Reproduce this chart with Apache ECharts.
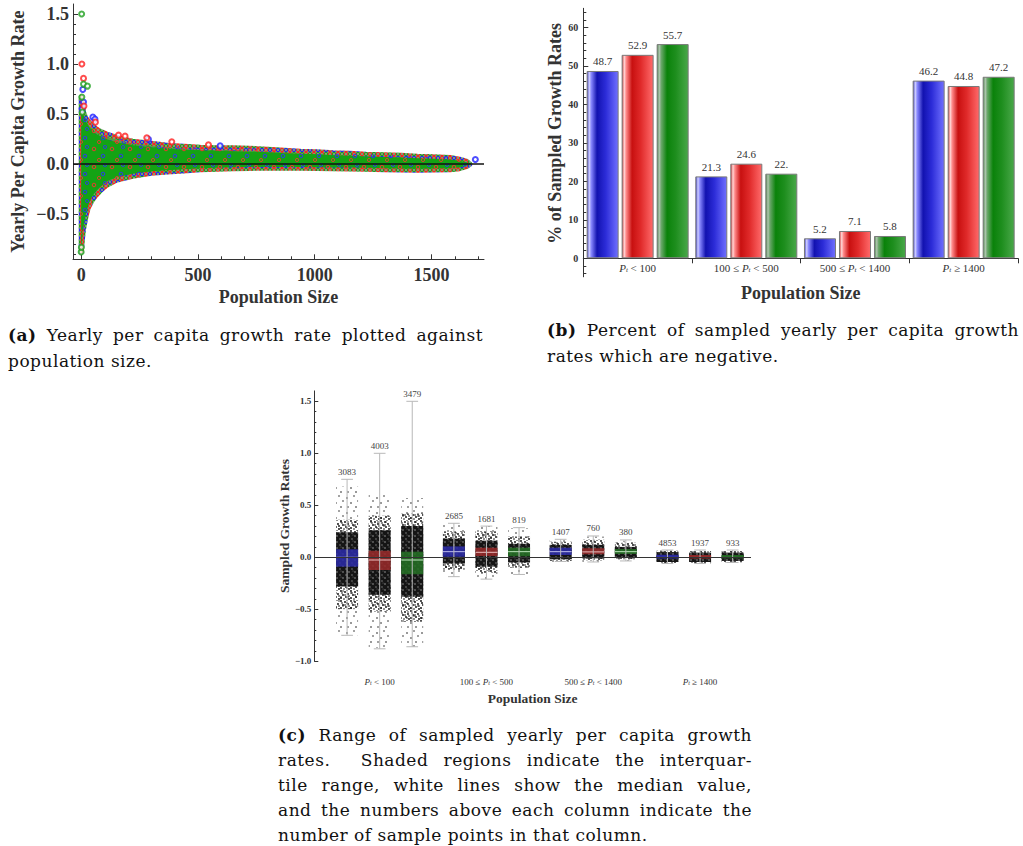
<!DOCTYPE html>
<html>
<head>
<meta charset="utf-8">
<script src="https://cdn.jsdelivr.net/npm/echarts@6/dist/echarts.min.js"></script>
<style>
body { margin: 0; background: #fff; }
#wrap { position: relative; width: 1023px; height: 846px; overflow: hidden; }
#chart { position: absolute; left: 0; top: 0; width: 1023px; height: 846px; }
.ln { position: absolute; font-family: "DejaVu Serif", "Liberation Serif", serif; font-size: 17px; letter-spacing: 0.5px; color: #111; line-height: 26px; white-space: nowrap; }
.ln.j { text-align: justify; text-align-last: justify; }
</style>
</head>
<body>
<div id="wrap">
  <div id="chart"></div>
  <!-- captions -->
  <div class="ln j" style="left:8px;top:322px;width:475px"><b>(a)</b> Yearly per capita growth rate plotted against</div>
  <div class="ln" style="left:8px;top:348px">population size.</div>
  <div class="ln j" style="left:547px;top:317px;width:472px"><b>(b)</b> Percent of sampled yearly per capita growth</div>
  <div class="ln" style="left:547px;top:343px">rates which are negative.</div>
  <div class="ln j" style="left:278px;top:722px;width:474px"><b>(c)</b> Range of sampled yearly per capita growth</div>
  <div class="ln j" style="left:278px;top:747px;width:474px">rates.&nbsp; Shaded regions indicate the interquar-</div>
  <div class="ln j" style="left:278px;top:772px;width:474px">tile range, white lines show the median value,</div>
  <div class="ln j" style="left:278px;top:797px;width:474px">and the numbers above each column indicate the</div>
  <div class="ln" style="left:278px;top:822px">number of sample points in that column.</div>
</div>
<script>
var FONT = '"Liberation Serif", "Times New Roman", serif';

// ---- (a) growth rate vs population size: cloud envelope
var envX    = [0, 5, 10, 20, 30, 45, 60, 80, 110, 150, 220, 300, 370, 440, 510, 580, 650, 720, 800, 870, 940, 1010, 1080, 1150, 1220, 1300, 1370, 1440, 1510, 1580, 1620, 1650, 1665];
var envHigh = [0.67, 0.6, 0.52, 0.46, 0.43, 0.39, 0.36, 0.33, 0.3, 0.27, 0.23, 0.21, 0.19, 0.18, 0.17, 0.165, 0.165, 0.16, 0.15, 0.14, 0.13, 0.125, 0.115, 0.11, 0.1, 0.095, 0.09, 0.08, 0.075, 0.067, 0.05, 0.03, 0];
var envLow  = [-0.88, -0.76, -0.65, -0.53, -0.44, -0.37, -0.32, -0.27, -0.21, -0.16, -0.12, -0.09, -0.077, -0.067, -0.055, -0.05, -0.045, -0.042, -0.04, -0.04, -0.04, -0.042, -0.045, -0.047, -0.05, -0.055, -0.058, -0.06, -0.058, -0.055, -0.045, -0.025, 0];
var coreHigh = [0.6, 0.55, 0.49, 0.43, 0.39, 0.34, 0.31, 0.28, 0.25, 0.22, 0.19, 0.17, 0.155, 0.145, 0.14, 0.135, 0.13, 0.125, 0.12, 0.11, 0.105, 0.1, 0.09, 0.085, 0.078, 0.072, 0.068, 0.06, 0.055, 0.048, 0.035, 0.02, 0];
var coreLow  = [-0.85, -0.73, -0.62, -0.5, -0.41, -0.33, -0.28, -0.23, -0.17, -0.13, -0.095, -0.07, -0.06, -0.05, -0.04, -0.035, -0.03, -0.028, -0.027, -0.027, -0.028, -0.03, -0.032, -0.034, -0.036, -0.04, -0.043, -0.045, -0.044, -0.04, -0.032, -0.017, 0];
// outlying points
var outBlue  = [[7, 0.747], [10, 0.62], [50, 0.47], [59, 0.45], [288, 0.25], [595, 0.183], [1688, 0.047], [4, 0.55]];
var outRed   = [[3, 1.0], [10, 0.857], [61, 0.42], [160, 0.29], [188, 0.28], [281, 0.263], [388, 0.223], [545, 0.193], [12, 0.58]];
var outGreen = [[2, 1.5], [10, 0.8], [27, 0.78], [3, 0.67], [0, -0.877], [1, -0.83], [5, 0.52]];

// ---- (b) percent negative
var bCats   = ['lt100', '100to500', '500to1400', 'ge1400'];
var bBlue   = [48.7, 21.3, 5.2, 46.2];
var bRed    = [52.9, 24.6, 7.1, 44.8];
var bGreen  = [55.7, 22.0, 5.8, 47.2];
var bBlueTxt  = ['48.7', '21.3', '5.2', '46.2'];
var bRedTxt   = ['52.9', '24.6', '7.1', '44.8'];
var bGreenTxt = ['55.7', '22.', '5.8', '47.2'];
var bYTicks = [0, 10, 20, 30, 40, 50, 60];
var bYMinor = [2, 4, 6, 8, 12, 14, 16, 18, 22, 24, 26, 28, 32, 34, 36, 38, 42, 44, 46, 48, 52, 54, 56, 58, 62, 64];
var bYBelow = [-4, -2];

// ---- (c) sampled growth rate columns (blue, red, green per size class)
var cPos    = [0.695, 1, 1.305, 1.695, 2, 2.305, 2.695, 3, 3.305, 3.695, 4, 4.305];
var cCount  = [3083, 4003, 3479, 2685, 1681, 819, 1407, 760, 380, 4853, 1937, 933];
var cMax    = [0.75, 1.0, 1.5, 0.327, 0.30, 0.285, 0.173, 0.205, 0.167, 0.07, 0.07, 0.07];
var cMin    = [-0.75, -0.88, -0.86, -0.186, -0.21, -0.165, -0.04, -0.045, -0.035, -0.06, -0.06, -0.05];
var cQ3     = [0.077, 0.063, 0.054, 0.105, 0.092, 0.092, 0.092, 0.087, 0.08, 0.025, 0.022, 0.022];
var cQ1     = [-0.09, -0.122, -0.163, 0.005, 0.012, 0.01, 0.022, 0.029, 0.032, -0.012, -0.012, -0.01];
var cMed    = [0.0, -0.026, -0.026, 0.054, 0.048, 0.054, 0.054, 0.052, 0.054, 0.005, 0.005, 0.005];
var cSparseHi = [0.68, 0.60, 0.57, 0.33, 0.30, 0.28, 0.17, 0.20, 0.16, 0.07, 0.07, 0.07];
var cMidHi    = [0.36, 0.40, 0.42, 0.25, 0.25, 0.20, 0.15, 0.17, 0.14, 0.065, 0.06, 0.06];
var cDenseHi  = [0.24, 0.26, 0.30, 0.18, 0.16, 0.13, 0.12, 0.12, 0.10, 0.05, 0.045, 0.045];
var cDenseLo  = [-0.28, -0.36, -0.38, -0.06, -0.09, -0.05, -0.02, -0.01, 0.0, -0.045, -0.045, -0.035];
var cMidLo    = [-0.50, -0.52, -0.62, -0.12, -0.15, -0.10, -0.035, -0.03, -0.02, -0.055, -0.055, -0.045];
var cSparseLo = [-0.75, -0.87, -0.86, -0.17, -0.21, -0.16, -0.045, -0.045, -0.035, -0.06, -0.06, -0.05];
var cGroupPos = [1, 2, 3, 4];
var cYTicks = [-1, -0.5, 0, 0.5, 1, 1.5];
var cYMinor = [-0.9, -0.8, -0.7, -0.6, -0.4, -0.3, -0.2, -0.1, 0.1, 0.2, 0.3, 0.4, 0.6, 0.7, 0.8, 0.9, 1.1, 1.2, 1.3, 1.4];

var aXTicks = [0, 500, 1000, 1500];
var aXMinor = [100, 200, 300, 400, 600, 700, 800, 900, 1100, 1200, 1300, 1400, 1600, 1700];
var aYTicks = [-0.5, 0, 0.5, 1, 1.5];
var aYMinor = [-0.9, -0.8, -0.7, -0.6, -0.4, -0.3, -0.2, -0.1, 0.1, 0.2, 0.3, 0.4, 0.6, 0.7, 0.8, 0.9, 1.1, 1.2, 1.3, 1.4];

var sizeLabels = ['{i|P}{s|t} < 100', '100 ≤ {i|P}{s|t} < 500', '500 ≤ {i|P}{s|t} < 1400', '{i|P}{s|t} ≥ 1400'];

// texture tiles for the point clouds
function tile(size, bg, marks) {
    var c = document.createElement('canvas');
    c.width = c.height = size;
    var ctx = c.getContext('2d');
    if (bg) { ctx.fillStyle = bg; ctx.fillRect(0, 0, size, size); }
    marks.forEach(function (m) {
        ctx.beginPath();
        ctx.arc(m[0], m[1], m[2], 0, Math.PI * 2);
        if (m[4]) { ctx.strokeStyle = m[3]; ctx.lineWidth = m[4]; ctx.stroke(); }
        else { ctx.fillStyle = m[3]; ctx.fill(); }
    });
    return { image: c, repeat: 'repeat' };
}
var ringMix = tile(14, '#5a9a48', [
    [3, 3, 1.8, '#ff2020', 1], [10, 9, 1.8, '#2020ff', 1], [7, 12, 1.8, '#ff2020', 1],
    [12, 2, 1.8, '#2020ff', 1], [2, 9, 1.8, '#20a020', 1], [8, 5, 1.8, '#20a020', 1]
]);
var ringEdge = tile(8, '#7aa070', [
    [2, 2, 1.7, '#ff2020', 1], [6, 6, 1.7, '#2020ff', 1], [6, 2, 1.7, '#20a020', 1], [2, 6, 1.7, '#ff2020', 1]
]);
var ringSparse = tile(18, null, [
    [4, 5, 1.8, '#ff3030', 0.9], [13, 12, 1.8, '#3030ff', 0.9], [9, 16, 1.6, '#ff3030', 0.8], [15, 3, 1.6, '#3030ff', 0.8]
]);
var dotsSparse = tile(15, null, [[2, 3, 0.75, '#000'], [9, 1, 0.7, '#000'], [6, 8, 0.75, '#000'], [13, 6, 0.7, '#000'],
                                 [11, 12, 0.75, '#000'], [3, 12, 0.7, '#000']]);
var dotsMid = tile(10, null, [[1, 1, 0.9, '#000'], [5, 2, 0.9, '#000'], [8, 4, 0.9, '#000'], [3, 5, 0.9, '#000'],
                              [6, 7, 0.9, '#000'], [1, 8, 0.9, '#000'], [9, 9, 0.9, '#000'], [4, 9, 0.8, '#000'],
                              [7, 0, 0.8, '#000'], [2, 3, 0.8, '#000'], [9, 6, 0.8, '#000'], [5, 5, 0.8, '#000']]);
var dotsDense = tile(6, '#151515', [[1, 2, 0.65, '#bbb'], [4, 5, 0.65, '#999'], [5, 1, 0.5, '#777']]);

function envelope(xs, hi, lo, fill, stroke, lw) {
    return function (params, api) {
        var pts = [];
        for (var i = 0; i < xs.length; i++) pts.push(api.coord([xs[i], hi[i]]));
        for (var k = xs.length - 1; k >= 0; k--) pts.push(api.coord([xs[k], lo[k]]));
        return { type: 'polygon', shape: { points: pts },
                 style: { fill: fill, stroke: stroke || null, lineWidth: lw || 0, lineJoin: 'round' } };
    };
}

function fmt1(v) { return (v < 0 ? '\u2212' : '') + Math.abs(v).toFixed(1); }
function plain(v) { return String(v); }

function barColor(stops) {
    return {
        type: 'linear', x: 0, y: 0, x2: 1, y2: 0,
        colorStops: [
            { offset: 0, color: stops[0] }, { offset: 0.07, color: stops[1] },
            { offset: 0.13, color: stops[2] }, { offset: 0.32, color: stops[3] },
            { offset: 0.6, color: stops[4] }, { offset: 1, color: stops[5] }
        ]
    };
}
var blueGrad = barColor(['#4545c8', '#d0d0ff', '#8a8aff', '#1212b0', '#2c2cd8', '#7070ff']);
var redGrad = barColor(['#d04040', '#ffd6d6', '#ff8a8a', '#c81010', '#e02a2a', '#ff6a6a']);
var greenGrad = barColor(['#4c8c4c', '#b0c4b0', '#6ca86c', '#0a820a', '#1e8e1e', '#4aa84a']);

var boxColors = ['#2b2ba6', '#962a2a', '#246e24'];
var medColors = ['#d8d8ff', '#ffd8d8', '#d8ffd8'];

function columnItem(params, api) {
    var i = params.dataIndex;
    var x = cPos[i];
    var c = api.coord([x, 0])[0];
    var half = api.size([0.206, 0])[0] / 2;
    var cap = api.size([0.11, 0])[0] / 2;
    function Y(v) { return api.coord([x, v])[1]; }
    function band(hi, lo, fill) {
        return { type: 'rect', shape: { x: c - half, y: Y(hi), width: half * 2, height: Y(lo) - Y(hi) }, style: { fill: fill } };
    }
    var ch = [
        band(cSparseHi[i], cSparseLo[i], dotsSparse),
        band(cMidHi[i], cMidLo[i], dotsMid),
        band(cDenseHi[i], cDenseLo[i], dotsDense),
        { type: 'rect', shape: { x: c - half, y: Y(cQ3[i]), width: half * 2, height: Math.max(1.5, Y(cQ1[i]) - Y(cQ3[i])) },
          style: { fill: boxColors[i % 3], opacity: 0.88 } },
        { type: 'line', shape: { x1: c - half, y1: Y(cMed[i]), x2: c + half, y2: Y(cMed[i]) },
          style: { stroke: i >= 9 ? boxColors[i % 3] : medColors[i % 3], lineWidth: i >= 9 ? 2 : 1, opacity: 0.85 } },
        { type: 'line', shape: { x1: c, y1: Y(cMax[i]), x2: c, y2: Y(cMin[i]) }, style: { stroke: '#b8b8b8', lineWidth: 1 } },
        { type: 'line', shape: { x1: c - cap, y1: Y(cMax[i]), x2: c + cap, y2: Y(cMax[i]) }, style: { stroke: '#b8b8b8', lineWidth: 1 } },
        { type: 'line', shape: { x1: c - cap, y1: Y(cMin[i]), x2: c + cap, y2: Y(cMin[i]) }, style: { stroke: '#b8b8b8', lineWidth: 1 } },
        { type: 'text', style: { text: String(cCount[i]), x: c, y: Y(cMax[i]) - 3, align: 'center', verticalAlign: 'bottom',
          fontFamily: FONT, fontSize: 9, fill: '#444' } }
    ];
    return { type: 'group', children: ch };
}

var myChart = echarts.init(document.getElementById('chart'), null, { renderer: 'svg' });

var tickLine = { color: '#333' };
var option = {
    animation: false,
    backgroundColor: '#fff',
    grid: [
        { left: 73, top: 4, width: 411, height: 255.3 },
        { left: 583.3, top: 8.3, width: 434.7, height: 250 },
        { left: 314.3, top: 390.9, width: 436.7, height: 270.4 },
        { left: 583.3, top: 258.3, width: 434.7, height: 18.5 }
    ],
    xAxis: [
        { gridIndex: 0, type: 'value', position: 'bottom', min: -35, max: 1725,
          axisLine: { onZero: false, lineStyle: tickLine },
          axisTick: { inside: true, length: 5, customValues: aXTicks, lineStyle: tickLine },
          axisLabel: { customValues: aXTicks, formatter: plain, margin: 7, fontFamily: FONT, fontWeight: 'bold', fontSize: 18, color: '#333' },
          splitLine: { show: false },
          name: 'Population Size', nameLocation: 'middle', nameGap: 29,
          nameTextStyle: { fontFamily: FONT, fontWeight: 'bold', fontSize: 18, color: '#333' } },
        { gridIndex: 0, type: 'value', position: 'bottom', min: -35, max: 1725,
          axisLine: { show: false, onZero: false },
          axisTick: { inside: true, length: 3, customValues: aXMinor, lineStyle: tickLine },
          axisLabel: { show: false }, splitLine: { show: false } },
        { gridIndex: 1, type: 'category', position: 'bottom', data: bCats,
          axisLine: { onZero: false, lineStyle: tickLine },
          axisTick: { show: true, length: 5, lineStyle: tickLine },
          axisLabel: { interval: 0, margin: 4, fontFamily: FONT, fontSize: 11, color: '#333',
            formatter: function (v, idx) { return sizeLabels[idx]; },
            rich: { i: { fontFamily: FONT, fontSize: 11, fontStyle: 'italic', color: '#333' },
                    s: { fontFamily: FONT, fontSize: 7, fontStyle: 'italic', color: '#333', verticalAlign: 'bottom', padding: [4, 0, 0, 0] } } },
          name: 'Population Size', nameLocation: 'middle', nameGap: 26,
          nameTextStyle: { fontFamily: FONT, fontWeight: 'bold', fontSize: 18, color: '#333' } },
        { gridIndex: 2, type: 'value', position: 'bottom', min: 0.388, max: 4.477,
          axisLine: { show: false, onZero: false }, axisTick: { show: false }, splitLine: { show: false },
          axisLabel: { customValues: cGroupPos, margin: 16, fontFamily: FONT, fontSize: 9, color: '#333',
            formatter: function (v) { return sizeLabels[Math.round(v) - 1]; },
            rich: { i: { fontFamily: FONT, fontSize: 9, fontStyle: 'italic', color: '#333' },
                    s: { fontFamily: FONT, fontSize: 6, fontStyle: 'italic', color: '#333', verticalAlign: 'bottom', padding: [3, 0, 0, 0] } } },
          name: 'Population Size', nameLocation: 'middle', nameGap: 30,
          nameTextStyle: { fontFamily: FONT, fontWeight: 'bold', fontSize: 13.5, color: '#333' } },
        { gridIndex: 3, type: 'value', min: 0, max: 1, show: false }
    ],
    yAxis: [
        { gridIndex: 0, type: 'value', position: 'left', min: -0.95, max: 1.6,
          axisLine: { show: true, onZero: false, lineStyle: tickLine },
          axisTick: { show: true, inside: true, length: 5, customValues: aYTicks, lineStyle: tickLine },
          axisLabel: { customValues: aYTicks, margin: 4, formatter: fmt1, fontFamily: FONT, fontWeight: 'bold', fontSize: 18, color: '#333' },
          splitLine: { show: false },
          name: 'Yearly Per Capita Growth Rate', nameLocation: 'middle', nameRotate: 90, nameGap: 46,
          nameTextStyle: { fontFamily: FONT, fontWeight: 'bold', fontSize: 18, color: '#333' } },
        { gridIndex: 0, type: 'value', position: 'left', min: -0.95, max: 1.6,
          axisLine: { show: false, onZero: false },
          axisTick: { show: true, inside: true, length: 3, customValues: aYMinor, lineStyle: tickLine },
          axisLabel: { show: false }, splitLine: { show: false } },
        { gridIndex: 1, type: 'value', position: 'left', min: 0, max: 65,
          axisLine: { show: true, onZero: false, lineStyle: tickLine },
          axisTick: { show: true, inside: true, length: 5, customValues: bYTicks, lineStyle: tickLine },
          axisLabel: { customValues: bYTicks, margin: 5, fontFamily: FONT, fontWeight: 'bold', fontSize: 10, color: '#333' },
          splitLine: { show: false },
          name: '% of Sampled Growth Rates', nameLocation: 'middle', nameRotate: 90, nameGap: 18,
          nameTextStyle: { fontFamily: FONT, fontWeight: 'bold', fontSize: 18, color: '#333' } },
        { gridIndex: 1, type: 'value', position: 'left', min: 0, max: 65,
          axisLine: { show: false, onZero: false },
          axisTick: { show: true, inside: true, length: 3, customValues: bYMinor, lineStyle: tickLine },
          axisLabel: { show: false }, splitLine: { show: false } },
        { gridIndex: 2, type: 'value', position: 'left', min: -1, max: 1.6,
          axisLine: { show: true, onZero: false, lineStyle: tickLine },
          axisTick: { show: true, inside: true, length: 4, customValues: cYTicks, lineStyle: tickLine },
          axisLabel: { customValues: cYTicks, margin: 3, formatter: fmt1, fontFamily: FONT, fontWeight: 'bold', fontSize: 9, color: '#333' },
          splitLine: { show: false },
          name: 'Sampled Growth Rates', nameLocation: 'middle', nameRotate: 90, nameGap: 22,
          nameTextStyle: { fontFamily: FONT, fontWeight: 'bold', fontSize: 13.5, color: '#333' } },
        { gridIndex: 2, type: 'value', position: 'left', min: -1, max: 1.6,
          axisLine: { show: false, onZero: false },
          axisTick: { show: true, inside: true, length: 2, customValues: cYMinor, lineStyle: tickLine },
          axisLabel: { show: false }, splitLine: { show: false } },
        // the % axis continues a little below zero, under the category labels
        { gridIndex: 3, type: 'value', position: 'left', min: -4.8, max: 0,
          axisLine: { show: true, onZero: false, lineStyle: tickLine },
          axisTick: { show: true, inside: true, length: 3, customValues: bYBelow, lineStyle: tickLine },
          axisLabel: { show: false }, splitLine: { show: false } }
    ],
    series: [
        // (a)
        { type: 'custom', xAxisIndex: 0, yAxisIndex: 0, data: [[0, 0]], z: 2, silent: true,
          renderItem: envelope(envX, envHigh, envLow, ringMix, ringEdge, 5) },
        { type: 'custom', xAxisIndex: 0, yAxisIndex: 0, data: [[0, 0]], z: 3, silent: true,
          renderItem: envelope(envX, coreHigh, coreLow, '#14a314') },
        { type: 'custom', xAxisIndex: 0, yAxisIndex: 0, data: [[0, 0]], z: 4, silent: true,
          renderItem: envelope(envX, envHigh, envLow, ringSparse) },
        { type: 'scatter', xAxisIndex: 0, yAxisIndex: 0, data: outBlue, symbol: 'emptyCircle', symbolSize: 5,
          itemStyle: { color: '#2020ff', borderColor: '#2020ff', borderWidth: 1 }, z: 5 },
        { type: 'scatter', xAxisIndex: 0, yAxisIndex: 0, data: outRed, symbol: 'emptyCircle', symbolSize: 5,
          itemStyle: { color: '#ff2020', borderColor: '#ff2020', borderWidth: 1 }, z: 5 },
        { type: 'scatter', xAxisIndex: 0, yAxisIndex: 0, data: outGreen, symbol: 'emptyCircle', symbolSize: 5,
          itemStyle: { color: '#20a020', borderColor: '#20a020', borderWidth: 1 }, z: 6,
          markLine: { silent: true, symbol: ['none', 'none'], label: { show: false },
                      lineStyle: { color: '#111', width: 1.5, type: 'solid' }, data: [{ yAxis: 0 }] } },
        // (b)
        { type: 'bar', xAxisIndex: 2, yAxisIndex: 2, data: bBlue, barWidth: 32, barGap: '9.4%',
          itemStyle: { color: blueGrad, borderColor: '#7a7a7a', borderWidth: 1 },
          label: { show: true, position: 'top', distance: 4, fontFamily: FONT, fontSize: 11, color: '#333',
                   formatter: function (p) { return bBlueTxt[p.dataIndex]; } } },
        { type: 'bar', xAxisIndex: 2, yAxisIndex: 2, data: bRed, barWidth: 32, barGap: '9.4%',
          itemStyle: { color: redGrad, borderColor: '#7a7a7a', borderWidth: 1 },
          label: { show: true, position: 'top', distance: 4, fontFamily: FONT, fontSize: 11, color: '#333',
                   formatter: function (p) { return bRedTxt[p.dataIndex]; } } },
        { type: 'bar', xAxisIndex: 2, yAxisIndex: 2, data: bGreen, barWidth: 32, barGap: '9.4%',
          itemStyle: { color: greenGrad, borderColor: '#7a7a7a', borderWidth: 1 },
          label: { show: true, position: 'top', distance: 4, fontFamily: FONT, fontSize: 11, color: '#333',
                   formatter: function (p) { return bGreenTxt[p.dataIndex]; } } },
        // (c)
        { type: 'scatter', xAxisIndex: 3, yAxisIndex: 4, data: [], z: 1,
          markLine: { silent: true, symbol: ['none', 'none'], label: { show: false },
                      lineStyle: { color: '#333', width: 1, type: 'solid' }, data: [{ yAxis: 0 }] } },
        { type: 'custom', xAxisIndex: 3, yAxisIndex: 4, z: 3, silent: true,
          data: cPos.map(function (p, i) { return [p, cMed[i]]; }), renderItem: columnItem }
    ]
};
myChart.setOption(option);
</script>
</body>
</html>
